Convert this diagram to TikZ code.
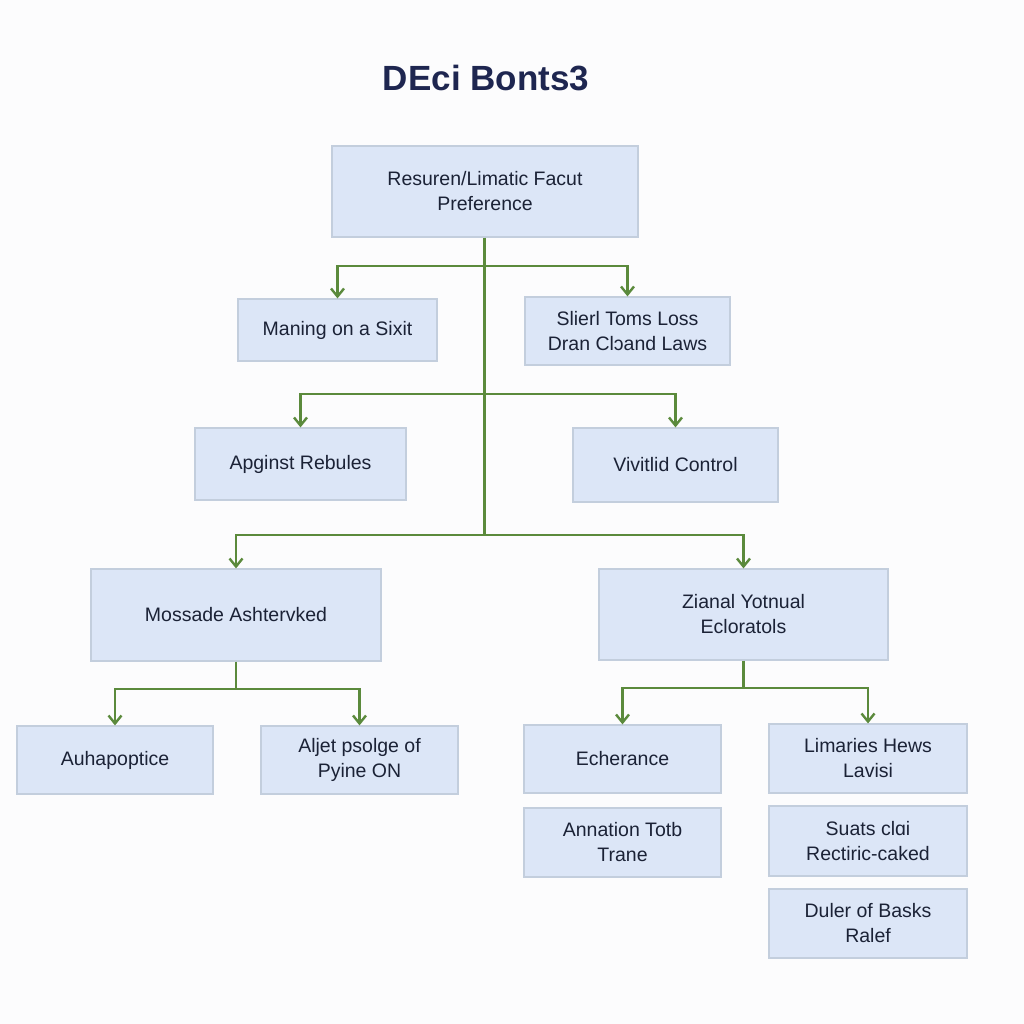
\documentclass[tikz,border=0pt]{standalone}
\usepackage{fontspec}
\setmainfont{Liberation Sans}
\usetikzlibrary{arrows.meta}
\definecolor{bgc}{HTML}{FCFCFD}
\definecolor{boxfill}{HTML}{DCE6F7}
\definecolor{boxline}{HTML}{C3CEDD}
\definecolor{txt}{HTML}{1B2236}
\definecolor{titlec}{HTML}{1E2650}
\definecolor{conn}{HTML}{5B8A3C}
\tikzset{
  box/.style={draw=boxline, line width=1.2pt, fill=boxfill, text=txt, align=center,
    font=\fontsize{19.5}{25}\selectfont, inner sep=0pt},
  link/.style={draw=conn, line width=2.5pt},
  linkarrow/.style={link, -{Straight Barb[length=8pt,width=13pt,line width=2.4pt]}}
}
\begin{document}
\begin{tikzpicture}[x=1pt,y=-1pt]
\useasboundingbox[fill=bgc] (0,0) rectangle (1024,1024);
\node[text=titlec, font=\fontsize{35}{40}\selectfont\bfseries] (title) at (486,78) {DEci Bonts3};

\node[box, minimum width=306pt, minimum height=91pt] (root) at (485,191.5) {Resuren/Limatic Facut\\Preference};

\node[box, minimum width=199pt, minimum height=62pt] (a1) at (337.5,330) {Maning on a Sixit};
\node[box, minimum width=205pt, minimum height=68pt] (a2) at (627.5,331) {Slierl Toms Loss\\Dran Clɔand Laws};

\node[box, minimum width=211pt, minimum height=72pt] (b1) at (300.5,464) {Apginst Rebules};
\node[box, minimum width=205pt, minimum height=74pt] (b2) at (675.5,465) {Vivitlid Control};

\node[box, minimum width=290pt, minimum height=92pt] (c1) at (236,615) {Mossade Ashtervked};
\node[box, minimum width=289pt, minimum height=91pt] (c2) at (743.5,614.5) {Zianal Yotnual\\Ecloratols};

\node[box, minimum width=196pt, minimum height=68pt] (d1) at (115,760) {Auhapoptice};
\node[box, minimum width=197pt, minimum height=68pt] (d2) at (359.5,760) {Aljet psolge of\\Pyine ON};

\node[box, minimum width=197pt, minimum height=68pt] (e1) at (622.5,759) {Echerance};
\node[box, minimum width=197pt, minimum height=69pt] (e2) at (622.5,842.5) {Annation Totb\\Trane};

\node[box, minimum width=198pt, minimum height=69pt] (f1) at (868,758.5) {Limaries Hews\\Lavisi};
\node[box, minimum width=198pt, minimum height=70pt] (f2) at (868,841) {Suats clɑi\\Rectiric-caked};
\node[box, minimum width=198pt, minimum height=69pt] (f3) at (868,923.5) {Duler of Basks\\Ralef};

% trunk
\coordinate (t1) at (484.5,266);
\coordinate (t2) at (484.5,394);
\coordinate (t3) at (484.5,535);
\draw[link] (root.south -| t1) -- (t3);
\draw[linkarrow] (t1) -| (a1.north);
\draw[linkarrow] (t1) -| (a2.north);
\draw[linkarrow] (t2) -| (b1.north);
\draw[linkarrow] (t2) -| (b2.north);
\draw[linkarrow] (t3) -| (c1.north);
\draw[linkarrow] (t3) -| (c2.north);

\coordinate (m1) at (236,689);
\draw[link] (c1.south) -- (m1);
\draw[linkarrow] (m1) -| (d1.north);
\draw[linkarrow] (m1) -| (d2.north);

\coordinate (m2) at (743.5,688);
\draw[link] (c2.south) -- (m2);
\draw[linkarrow] (m2) -| (e1.north);
\draw[linkarrow] (m2) -| (f1.north);
\end{tikzpicture}
\end{document}
